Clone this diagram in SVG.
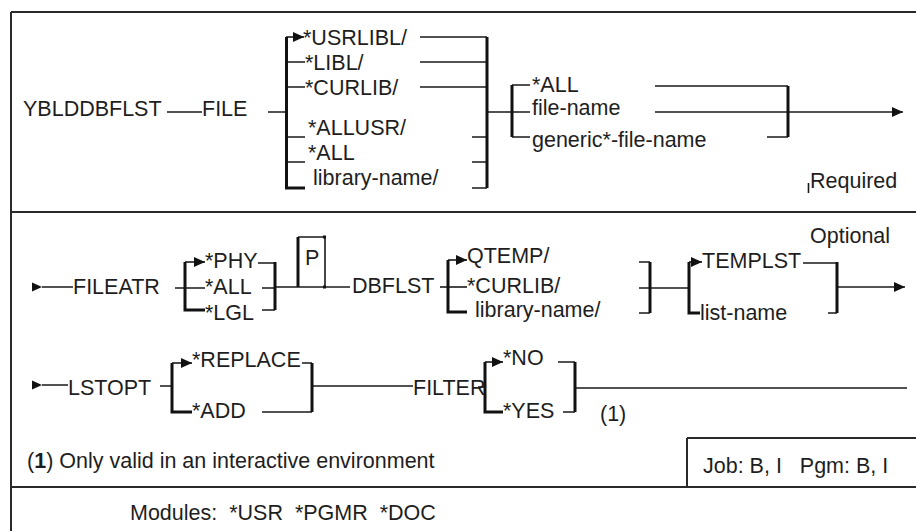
<svg xmlns="http://www.w3.org/2000/svg" width="916" height="531" viewBox="0 0 916 531">
<style>
text{font-family:"Liberation Sans",Arial,sans-serif;font-size:21.5px;fill:#1e1e1e;white-space:pre}
.ln{stroke:#1a1a1a;stroke-width:1.6;fill:none}
.bk{stroke:#111;stroke-width:3;fill:none}
.fr{stroke:#2a2a2a;stroke-width:2;fill:none}
.ah{fill:#111}
</style>
<defs>
<marker id="arr" markerUnits="userSpaceOnUse" markerWidth="11" markerHeight="10" refX="11" refY="5" orient="auto">
<path d="M0,0 L11,5 L0,10 z" fill="#111"/>
</marker>
</defs>
<rect x="0" y="0" width="916" height="531" fill="#fff"/>
<g id="frame">
<path class="fr" d="M11,12 H916 M11,12 V531 M11,212 H916 M11,487 H916"/>
<path class="fr" d="M687,438 H916" stroke-width="2.6"/>
<path class="fr" d="M687,438 V487"/>
</g>
<g id="connectors">
<path class="ln" d="M167,112 H202 M268,112 H286 M487,112 H512"/>
<path class="ln" d="M420,37 H487 M420,62 H487 M420,87 H487 M472,137 H487 M472,162 H487 M472,188 H487"/>
<path class="ln" d="M286,62 H305 M286,87 H305 M286,137 H305 M286,162 H305"/>
<path class="ln" d="M286,37 H304" marker-end="url(#arr)"/>
<path class="ln" d="M512,85 H530 M512,112 H530 M512,137 H530"/>
<path class="ln" d="M655,86 H788 M767,137 H788"/>
<path class="ln" d="M655,112 H903" marker-end="url(#arr)"/>
<polygon class="ah" points="32,282.5 42,287 32,291.5"/>
<path class="ln" d="M42,287 H73 M175,288 H185 M185,288 H205 M258,263 H275 M262,288 H275 M262,310 H275 M275,287 H298"/>
<path class="ln" d="M185,262 H205" marker-end="url(#arr)"/>
<path class="ln" d="M298,287 H350"/>
<path class="ln" d="M440,287 H467"/>
<path class="ln" d="M448,260 H467" marker-end="url(#arr)"/>
<path class="ln" d="M639,262 H650 M639,313 H650 M639,288 H689"/>
<path class="ln" d="M689,262 H702" marker-end="url(#arr)"/>
<path class="ln" d="M803,263 H837 M828,313 H837"/>
<path class="ln" d="M837,287 H905" marker-end="url(#arr)"/>
<polygon class="ah" points="32,380.5 42,385 32,389.5"/>
<path class="ln" d="M42,385 H68 M160,386 H172 M302,363 H312 M262,412 H312 M312,386 H413"/>
<path class="ln" d="M172,363 H192" marker-end="url(#arr)"/>
<path class="ln" d="M478,387 H485 M558,362 H575 M563,412 H575 M575,388 H907"/>
<path class="ln" d="M485,362 H503" marker-end="url(#arr)"/>
</g>
<g id="cmd">
<text x="23" y="116">YBLDDBFLST</text>
</g>
<g id="file-kw">
<text x="202" y="116">FILE</text>
</g>
<g id="file-lib">
<path class="bk" d="M286.5,37 V188 H305"/>
<path class="bk" d="M487,37 V188"/>
<text x="303" y="45">*USRLIBL/</text>
<text x="305" y="70">*LIBL/</text>
<text x="305" y="95">*CURLIB/</text>
<text x="308" y="135">*ALLUSR/</text>
<text x="308" y="160">*ALL</text>
<text x="313" y="185">library-name/</text>
</g>
<g id="file-name">
<path class="bk" d="M512,85 V137"/>
<path class="bk" d="M788,86 V137"/>
<text x="532" y="92">*ALL</text>
<text x="532" y="115">file-name</text>
<text x="532" y="147">generic*-file-name</text>
</g>
<g id="required">
<path class="ln" d="M808.5,183 V193" stroke-width="1.2"/>
<text x="810" y="188">Required</text>
</g>
<g id="fileatr">
<text x="73" y="294">FILEATR</text>
<path class="bk" d="M185,262 V310 H205"/>
<path class="bk" d="M275,262 V310"/>
<text x="205" y="268">*PHY</text>
<text x="205" y="294">*ALL</text>
<text x="205" y="320">*LGL</text>
</g>
<g id="p-box">
<path class="bk" d="M298,237 V287"/>
<path class="ln" d="M298,237 H325 V287" stroke-width="1"/>
<rect x="323" y="235.5" width="3" height="3" fill="#111"/>
<rect x="323" y="285.5" width="3" height="3" fill="#111"/>
<text x="305" y="265">P</text>
</g>
<g id="dbflst">
<text x="352" y="293">DBFLST</text>
<path class="bk" d="M448,260 V312 H467"/>
<path class="bk" d="M650,262 V313"/>
<text x="467" y="263">QTEMP/</text>
<text x="467" y="293">*CURLIB/</text>
<text x="475" y="317">library-name/</text>
</g>
<g id="templst">
<path class="bk" d="M689,262 V313 H700"/>
<path class="bk" d="M837,262 V313"/>
<text x="702" y="268">TEMPLST</text>
<text x="700" y="320">list-name</text>
</g>
<g id="optional">
<text x="810" y="243">Optional</text>
</g>
<g id="lstopt">
<text x="68" y="395">LSTOPT</text>
<path class="bk" d="M172,363 V412 H192"/>
<path class="bk" d="M312,363 V412"/>
<text x="192" y="367">*REPLACE</text>
<text x="192" y="418">*ADD</text>
</g>
<g id="filter">
<text x="413" y="395">FILTER</text>
<path class="bk" d="M485,362 V412 H503"/>
<path class="bk" d="M575,362 V412"/>
<text x="503" y="365">*NO</text>
<text x="503" y="418">*YES</text>
<text x="600" y="421">(1)</text>
</g>
<g id="footnote">
<text x="27" y="468">(<tspan font-weight="bold">1</tspan>) Only valid in an interactive environment</text>
</g>
<g id="job">
<text x="703" y="473">Job: B, I   Pgm: B, I</text>
</g>
<g id="modules">
<text x="130" y="520">Modules:  *USR  *PGMR  *DOC</text>
</g>
</svg>
